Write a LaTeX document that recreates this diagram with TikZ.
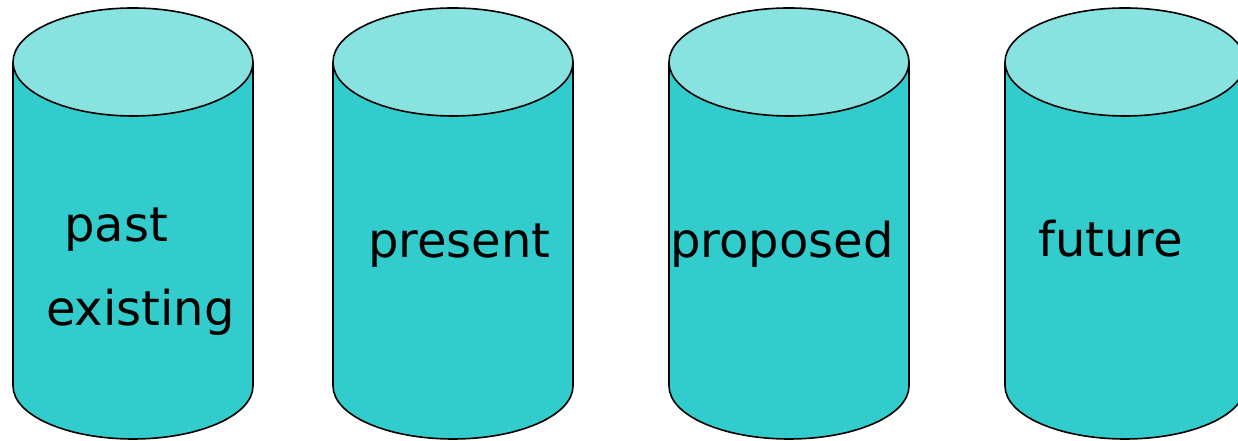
\documentclass[tikz,border=0pt]{standalone}
\usepackage{fontspec}
\setmainfont{DejaVu Sans}
\definecolor{sidecol}{HTML}{33CCCC}
\definecolor{topcol}{HTML}{87E2E0}
\tikzset{
  drumline/.style={draw=black, line width=1.6bp},
  drum/.pic={
    \fill[sidecol] (-120,162) -- (-120,-162) arc[start angle=180,end angle=360,x radius=120,y radius=53] -- (120,162) -- cycle;
    \draw[drumline] (-120,162) -- (-120,-162) arc[start angle=180,end angle=360,x radius=120,y radius=53] -- (120,162);
    \draw[drumline, fill=topcol] (0,162) ellipse [x radius=120, y radius=54];
  },
  label/.style={inner sep=0pt, anchor=base west, font=\fontsize{48bp}{56bp}\selectfont}
}
\begin{document}
\begin{tikzpicture}[x=1bp,y=1bp]
\useasboundingbox (0,0) rectangle (1238,441);
\clip (0,0) rectangle (1238,441);
\pic (c1) at (133,217) {drum};
\pic (c2) at (453,217) {drum};
\pic (c3) at (789,217) {drum};
\pic (c4) at (1125,217) {drum};
\node[label] (past) at (64,199) {past};
\node[label] (existing) at (46,115) {existing};
\node[label] (present) at (368,183) {present};
\node[label] (proposed) at (670,183) {proposed};
\node[label] (future) at (1038,184) {future};
\end{tikzpicture}
\end{document}
